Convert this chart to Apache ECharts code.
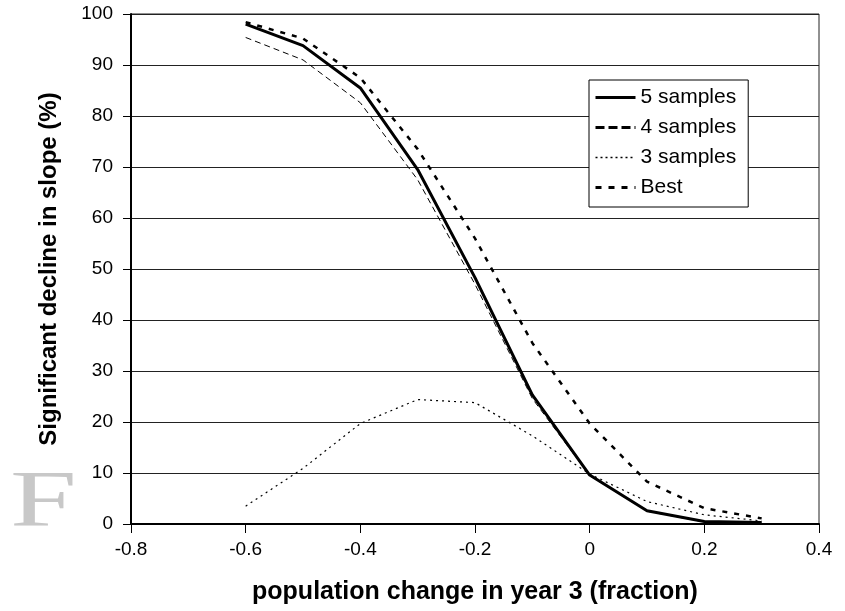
<!DOCTYPE html>
<html>
<head>
<meta charset="utf-8">
<script src="https://cdn.jsdelivr.net/npm/echarts@6/dist/echarts.min.js"></script>
<style>
  html, body { margin: 0; padding: 0; background: #fff; }
  #chart { width: 845px; height: 611px; }
</style>
</head>
<body>
<div id="chart"></div>
<script>
// population change (x) and % significant decline for each sampling scheme
const change = [-0.6, -0.5, -0.4, -0.3, -0.2, -0.1, 0, 0.1, 0.2, 0.3];
const fiveSamples = [98.0, 93.8, 85.5, 69.5, 48.3, 25.3, 9.6, 2.6, 0.5, 0.3];
const fourSamples = [95.4, 91.0, 82.6, 67.5, 47.0, 24.6, 9.5, 2.5, 0.4, 0.2];
const threeSamples = [3.5, 10.9, 19.7, 24.4, 23.8, 17.3, 9.8, 4.4, 1.8, 0.6];
const best = [98.4, 95.2, 87.5, 73.5, 56.0, 35.5, 19.7, 8.3, 3.1, 1.1];
const seriesNames = ['5 samples', '4 samples', '3 samples', 'Best'];

function pairs(values) {
  return change.map(function (x, i) { return [x, values[i]]; });
}

const chart = echarts.init(document.getElementById('chart'));

const font = "'Liberation Sans', Arial, sans-serif";

const option = {
  animation: false,
  backgroundColor: '#fff',
  textStyle: { fontFamily: font, color: '#000' },
  grid: {
    left: 131,
    right: 26,
    top: 14,
    bottom: 87,
    show: true,
    borderColor: '#222',
    borderWidth: 1
  },
  legend: {
    orient: 'vertical',
    left: 589,
    top: 80,
    padding: [7, 12, 9, 5],
    itemGap: 9,
    itemWidth: 40,
    itemHeight: 14,
    backgroundColor: '#fff',
    borderColor: '#000',
    borderWidth: 1,
    borderRadius: 0,
    itemStyle: { opacity: 0 },
    textStyle: { fontFamily: font, fontSize: 21, color: '#000' },
    data: [
      { name: '5 samples', lineStyle: { width: 3, type: 'solid' } },
      { name: '4 samples', lineStyle: { width: 3, type: [9, 4] } },
      { name: '3 samples', lineStyle: { width: 1.5, type: [2, 3] } },
      { name: 'Best', lineStyle: { width: 3, type: [6, 7] } }
    ]
  },
  xAxis: {
    type: 'value',
    min: -0.8,
    max: 0.4,
    interval: 0.2,
    name: 'population change in year 3 (fraction)',
    nameLocation: 'middle',
    nameGap: 56,
    nameTextStyle: { fontFamily: font, fontSize: 25, fontWeight: 'bold', color: '#000' },
    axisLine: { onZero: false, lineStyle: { color: '#000', width: 2 } },
    axisTick: { inside: false, length: 9, lineStyle: { color: '#000' } },
    axisLabel: {
      margin: 16,
      fontSize: 19,
      color: '#000',
      formatter: function (v) { return String(Math.round(v * 10) / 10); }
    },
    splitLine: { show: false }
  },
  yAxis: {
    type: 'value',
    min: 0,
    max: 100,
    interval: 10,
    name: 'Significant decline in slope (%)',
    nameLocation: 'middle',
    nameGap: 70,
    nameTextStyle: { fontFamily: font, fontSize: 24, fontWeight: 'bold', color: '#000' },
    axisLine: { show: true, onZero: false, lineStyle: { color: '#000', width: 2 } },
    axisTick: { show: true, inside: false, length: 8, lineStyle: { color: '#000' } },
    axisLabel: { margin: 18, fontSize: 19, color: '#000' },
    splitLine: { show: true, lineStyle: { color: '#222', width: 1 } }
  },
  series: [
    {
      name: seriesNames[0],
      type: 'line',
      symbol: 'none',
      z: 5,
      data: pairs(fiveSamples),
      lineStyle: { color: '#000', width: 3, type: 'solid' },
      itemStyle: { color: '#000' }
    },
    {
      name: seriesNames[1],
      type: 'line',
      symbol: 'none',
      z: 4,
      data: pairs(fourSamples),
      lineStyle: { color: '#000', width: 1, type: [6, 4] },
      itemStyle: { color: '#000' }
    },
    {
      name: seriesNames[2],
      type: 'line',
      symbol: 'none',
      z: 3,
      data: pairs(threeSamples),
      lineStyle: { color: '#000', width: 1.2, type: [2, 4] },
      itemStyle: { color: '#000' }
    },
    {
      name: seriesNames[3],
      type: 'line',
      symbol: 'none',
      z: 4,
      data: pairs(best),
      lineStyle: { color: '#000', width: 2.5, type: [5, 7] },
      itemStyle: { color: '#000' }
    }
  ],
  graphic: [
    {
      type: 'text',
      left: 10,
      top: 465,
      scaleX: 1.5,
      style: {
        text: 'F',
        fontFamily: "'Liberation Serif', 'DejaVu Serif', serif",
        fontSize: 80,
        fill: '#c8c8c8'
      }
    }
  ]
};

chart.setOption(option);
</script>
</body>
</html>
